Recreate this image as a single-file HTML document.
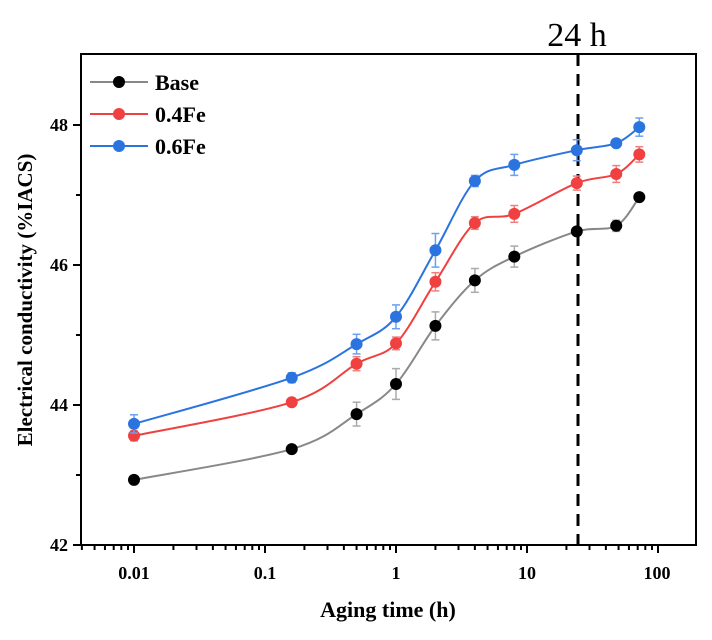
<!DOCTYPE html>
<html><head><meta charset="utf-8"><style>
body{margin:0;background:#fff;}
svg{display:block;font-family:"Liberation Serif",serif;}
</style></head><body>
<svg id="s" width="712" height="640" xmlns="http://www.w3.org/2000/svg">
<rect x="81" y="54" width="615" height="491" fill="none" stroke="#000" stroke-width="2"/>
<line x1="578" y1="54" x2="578" y2="545" stroke="#000" stroke-width="3" stroke-dasharray="12,8"/>
<text x="577" y="46" font-size="34" text-anchor="middle">24 h</text>
<g font-weight="bold" font-size="18" text-anchor="middle">
<text x="134" y="579">0.01</text><text x="265" y="579">0.1</text><text x="396" y="579">1</text><text x="527" y="579">10</text><text x="657" y="579">100</text>
</g>
<g font-weight="bold" font-size="18" text-anchor="end">
<text x="68" y="551">42</text><text x="68" y="411">44</text><text x="68" y="271">46</text><text x="68" y="131">48</text>
</g>
<text x="388" y="617" font-weight="bold" font-size="22" text-anchor="middle">Aging time (h)</text>
<text transform="translate(32,300) rotate(-90)" font-weight="bold" font-size="21" text-anchor="middle">Electrical conductivity (%IACS)</text>
<g font-weight="bold" font-size="22">
<line x1="90" y1="82" x2="148" y2="82" stroke="#888" stroke-width="2"/><circle cx="119" cy="82" r="6" fill="#000"/><text x="155" y="90">Base</text>
<line x1="90" y1="114" x2="148" y2="114" stroke="#f04040" stroke-width="2"/><circle cx="119" cy="114" r="6" fill="#f04040"/><text x="155" y="122">0.4Fe</text>
<line x1="90" y1="146" x2="148" y2="146" stroke="#2b74e0" stroke-width="2"/><circle cx="119" cy="146" r="6" fill="#2b74e0"/><text x="155" y="154">0.6Fe</text>
</g>
<g id="ticks" stroke="#000" stroke-width="2"></g>
<g id="data"></g>
</svg>
<script>
var NS="http://www.w3.org/2000/svg";
function el(p,t,a){var e=document.createElementNS(NS,t);for(var k in a)e.setAttribute(k,a[k]);p.appendChild(e);return e;}
function X(h){return 396+131*Math.log10(h);}
function Y(v){return 545-70*(v-42);}
var tk=document.getElementById("ticks");
for(var d=-3;d<=2;d++){for(var m=1;m<10;m++){var h=m*Math.pow(10,d);var x=X(h);if(x<81||x>696)continue;var L=(m==1)?8:5;el(tk,"line",{x1:x,y1:545,x2:x,y2:545+L});}}
for(var v=42;v<=48.5;v+=1){var y=Y(v);if(y<54)continue;var L=(v%2==0)?8:5;el(tk,"line",{x1:81,y1:y,x2:81-L,y2:y});}
var xs=[0.01,0.16,0.5,1,2,4,8,24,48,72];
var S=[
{c:"#000",l:"#888",e:"#aaa",y:[42.93,43.37,43.87,44.3,45.13,45.78,46.12,46.48,46.56,46.97],er:[.04,.05,.17,.22,.2,.17,.15,.05,.08,.04]},
{c:"#f04040",l:"#f04040",e:"#f08080",y:[43.56,44.04,44.59,44.88,45.76,46.6,46.73,47.17,47.3,47.58],er:[.07,.05,.1,.09,.13,.09,.12,.1,.12,.11]},
{c:"#2b74e0",l:"#2b74e0",e:"#6aa0f0",y:[43.73,44.39,44.87,45.26,46.21,47.2,47.43,47.64,47.74,47.97],er:[.13,.07,.14,.17,.24,.08,.15,.15,.05,.13]}];
var g=document.getElementById("data");
S.forEach(function(s){
 var P=xs.map(function(h,i){return [X(h),Y(s.y[i])];});
 var d="M"+P[0][0]+","+P[0][1];
 for(var i=0;i<P.length-1;i++){var p0=P[Math.max(i-1,0)],p1=P[i],p2=P[i+1],p3=P[Math.min(i+2,P.length-1)];
  var c1=[p1[0]+(p2[0]-p0[0])/6,p1[1]+(p2[1]-p0[1])/6],c2=[p2[0]-(p3[0]-p1[0])/6,p2[1]-(p3[1]-p1[1])/6];
  d+=" C"+c1+" "+c2+" "+p2;}
 el(g,"path",{d:d,fill:"none",stroke:s.l,"stroke-width":2});
 P.forEach(function(p,i){var e=s.er[i]*70;
  el(g,"line",{x1:p[0],y1:p[1]-e,x2:p[0],y2:p[1]+e,stroke:s.e,"stroke-width":1.5});
  el(g,"line",{x1:p[0]-4,y1:p[1]-e,x2:p[0]+4,y2:p[1]-e,stroke:s.e,"stroke-width":1.5});
  el(g,"line",{x1:p[0]-4,y1:p[1]+e,x2:p[0]+4,y2:p[1]+e,stroke:s.e,"stroke-width":1.5});
  el(g,"circle",{cx:p[0],cy:p[1],r:6,fill:s.c});});
});
</script>
</body></html>
